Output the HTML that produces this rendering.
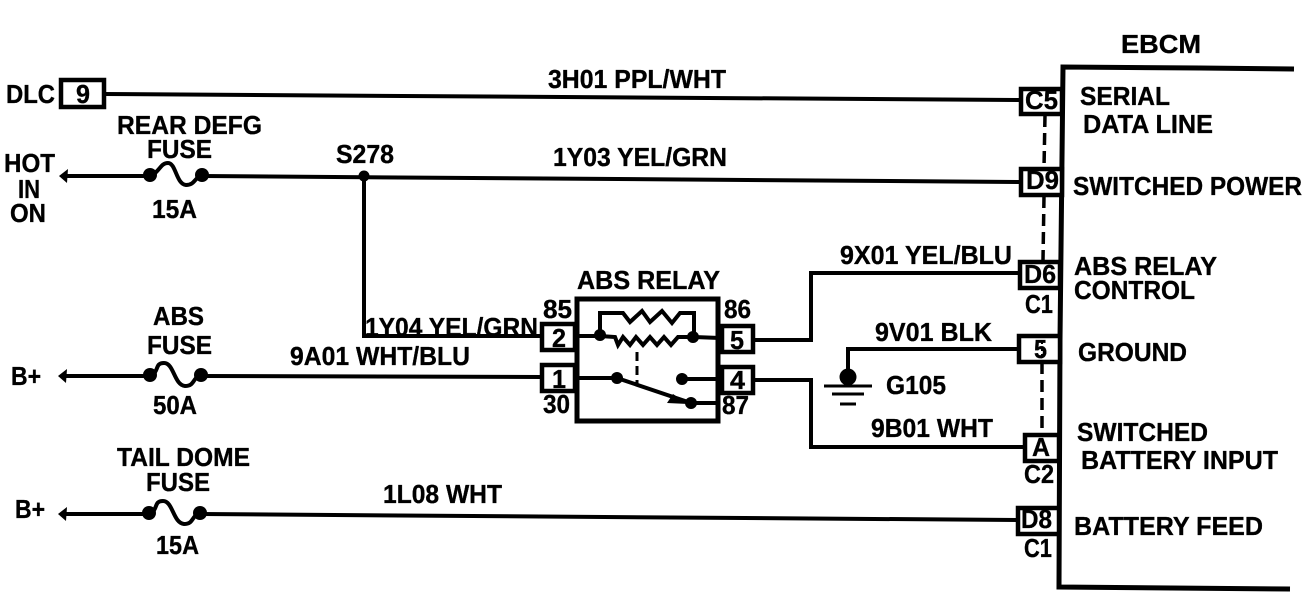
<!DOCTYPE html>
<html><head><meta charset="utf-8"><style>
html,body{margin:0;padding:0;background:#fff;width:1312px;height:598px;overflow:hidden}
svg{display:block}
text{font-family:"Liberation Sans",sans-serif;font-weight:bold;fill:#000;font-size:26px;stroke:#000;stroke-width:.35}
.w{fill:none;stroke:#000;stroke-width:4}
.b{fill:#fff;stroke:#000;stroke-width:4.5}
.d{fill:none;stroke:#000;stroke-width:3.5;stroke-dasharray:12 6}
</style></head><body>
<svg width="1312" height="598" viewBox="0 0 1312 598" xmlns="http://www.w3.org/2000/svg">
<!-- EBCM outline -->
<path d="M1294 69 L1200 68 L1063 67 L1060 340 L1059 587 L1290 589" fill="none" stroke="#000" stroke-width="5"/>
<!-- wires -->
<path class="w" d="M104 94 L1020 100"/>
<path class="w" d="M62 176 L150 176"/>
<path class="w" d="M202 176 L1020 182"/>
<path class="w" d="M364 176 L364 336 L541 336"/>
<path class="w" d="M62 376 L150 376"/>
<path class="w" d="M202 376 L541 377"/>
<path class="w" d="M62 514 L150 514"/>
<path class="w" d="M202 514 L1017 520"/>
<path class="w" d="M753 340 L811 340 L811 273 L1018 273"/>
<path class="w" d="M848 376 L848 349 L1018 349"/>
<path class="w" d="M753 380 L811 380 L811 447 L1023 447"/>
<circle cx="364" cy="176" r="5.5"/>
<!-- arrows -->
<path d="M59 176 L68 169 L67 183 Z"/><path d="M58 376 L67 369 L66 383 Z"/><path d="M58 514 L67 507 L66 521 Z"/>
<!-- fuses -->
<g><circle cx="150" cy="175" r="7"/><circle cx="202" cy="175" r="7"/><path d="M150 176 C160 172 160 163 168 163 C176 163 176 184 186 185 C195 185 194 178 202 175" class="w"/></g>
<g><circle cx="150" cy="375" r="7"/><circle cx="201" cy="375" r="7"/><path d="M150 376 C160 372 154 363 164 363 C174 363 174 385 185 386 C195 386 192 378 201 375" class="w"/></g>
<g><circle cx="149" cy="513" r="7"/><circle cx="200" cy="513" r="7"/><path d="M149 514 C159 510 153 501 163 501 C173 501 173 523 184 524 C194 524 191 516 200 513" class="w"/></g>
<!-- dashed shield -->
<path class="d" d="M1045 115 L1044 168"/>
<path class="d" d="M1044 196 L1043 260"/>
<path class="d" d="M1042 362 L1042 433"/>
<!-- relay -->
<rect x="577" y="299" width="141" height="122" fill="#fff" stroke="#000" stroke-width="5"/>
<path class="w" d="M577 336 L600 336 L615 337 L618 345 L623 337 L630 345 L636 337 L643 345 L650 337 L657 345 L664 337 L671 345 L678 337 L694 337 L720 338"/>
<path class="w" d="M600 336 L600 313 L623 313 L630 322 L642 311 L650 322 L662 311 L672 323 L680 313 L694 313 L694 337"/>
<circle cx="600" cy="335" r="6"/><circle cx="693" cy="337" r="6"/>
<path d="M637 352 L637 385" fill="none" stroke="#000" stroke-width="3" stroke-dasharray="9 5"/>
<path class="w" d="M578 378 L617 378 L691 403 L720 403"/>
<path class="w" d="M682 379 L720 379"/>
<circle cx="617" cy="378" r="6"/><circle cx="682" cy="379" r="6"/><circle cx="691" cy="403" r="6"/>
<path d="M667 403 L673 394 L688 404 Z"/>
<!-- connector boxes -->
<rect class="b" x="61" y="80" width="43" height="27"/>
<rect class="b" x="542" y="324" width="33" height="26"/>
<rect class="b" x="542" y="365" width="33" height="26"/>
<rect class="b" x="722" y="326" width="31" height="26"/>
<rect class="b" x="722" y="367" width="31" height="26"/>
<rect class="b" x="1021" y="89" width="41" height="25"/>
<rect class="b" x="1021" y="169" width="41" height="26"/>
<rect class="b" x="1020" y="262" width="40" height="26"/>
<rect class="b" x="1019" y="336" width="41" height="26"/>
<rect class="b" x="1025" y="435" width="34" height="26"/>
<rect class="b" x="1018" y="508" width="41" height="26"/>
<path d="M1042 340 L1042 362" stroke="#000" stroke-width="2" stroke-dasharray="4 3" fill="none"/>
<!-- ground -->
<circle cx="848" cy="377" r="8.5"/>
<path d="M824 386 L872 386 M832 394 L864 394 M840 404 L856 404" stroke="#000" stroke-width="3" fill="none"/>
<!-- labels -->
<text x="1121" y="53" textLength="80" lengthAdjust="spacingAndGlyphs">EBCM</text>
<text x="6" y="103" textLength="49" lengthAdjust="spacingAndGlyphs">DLC</text>
<text x="76" y="103" textLength="14" lengthAdjust="spacingAndGlyphs">9</text>
<text x="548" y="88" textLength="178" lengthAdjust="spacingAndGlyphs">3H01 PPL/WHT</text>
<text x="1080" y="105" textLength="90" lengthAdjust="spacingAndGlyphs">SERIAL</text>
<text x="1083" y="133" textLength="130" lengthAdjust="spacingAndGlyphs">DATA LINE</text>
<text x="1073" y="195" textLength="229" lengthAdjust="spacingAndGlyphs">SWITCHED POWER</text>
<text x="1074" y="275" textLength="143" lengthAdjust="spacingAndGlyphs">ABS RELAY</text>
<text x="1074" y="299" textLength="121" lengthAdjust="spacingAndGlyphs">CONTROL</text>
<text x="1078" y="361" textLength="109" lengthAdjust="spacingAndGlyphs">GROUND</text>
<text x="1077" y="441" textLength="131" lengthAdjust="spacingAndGlyphs">SWITCHED</text>
<text x="1081" y="469" textLength="197" lengthAdjust="spacingAndGlyphs">BATTERY INPUT</text>
<text x="1074" y="535" textLength="189" lengthAdjust="spacingAndGlyphs">BATTERY FEED</text>
<text x="1025" y="109" textLength="33" lengthAdjust="spacingAndGlyphs">C5</text>
<text x="1026" y="189" textLength="33" lengthAdjust="spacingAndGlyphs">D9</text>
<text x="1024" y="283" textLength="32" lengthAdjust="spacingAndGlyphs">D6</text>
<text x="1025" y="313" textLength="28" lengthAdjust="spacingAndGlyphs">C1</text>
<text x="1034" y="358" textLength="13" lengthAdjust="spacingAndGlyphs">5</text>
<text x="1032" y="456" textLength="18" lengthAdjust="spacingAndGlyphs">A</text>
<text x="1024" y="483" textLength="30" lengthAdjust="spacingAndGlyphs">C2</text>
<text x="1021" y="528" textLength="31" lengthAdjust="spacingAndGlyphs">D8</text>
<text x="1024" y="557" textLength="28" lengthAdjust="spacingAndGlyphs">C1</text>
<text x="117" y="134" textLength="145" lengthAdjust="spacingAndGlyphs">REAR DEFG</text>
<text x="147" y="158" textLength="65" lengthAdjust="spacingAndGlyphs">FUSE</text>
<text x="4" y="172" textLength="51" lengthAdjust="spacingAndGlyphs">HOT</text>
<text x="18" y="198" textLength="22" lengthAdjust="spacingAndGlyphs">IN</text>
<text x="10" y="222" textLength="36" lengthAdjust="spacingAndGlyphs">ON</text>
<text x="152" y="218" textLength="45" lengthAdjust="spacingAndGlyphs">15A</text>
<text x="336" y="163" textLength="58" lengthAdjust="spacingAndGlyphs">S278</text>
<text x="553" y="166" textLength="174" lengthAdjust="spacingAndGlyphs">1Y03 YEL/GRN</text>
<text x="840" y="264" textLength="172" lengthAdjust="spacingAndGlyphs">9X01 YEL/BLU</text>
<text x="153" y="325" textLength="51" lengthAdjust="spacingAndGlyphs">ABS</text>
<text x="147" y="354" textLength="65" lengthAdjust="spacingAndGlyphs">FUSE</text>
<text x="153" y="414" textLength="44" lengthAdjust="spacingAndGlyphs">50A</text>
<text x="11" y="385" textLength="30" lengthAdjust="spacingAndGlyphs">B+</text>
<text x="365" y="336" textLength="173" lengthAdjust="spacingAndGlyphs">1Y04 YEL/GRN</text>
<text x="290" y="365" textLength="180" lengthAdjust="spacingAndGlyphs">9A01 WHT/BLU</text>
<text x="577" y="289" textLength="143" lengthAdjust="spacingAndGlyphs">ABS RELAY</text>
<text x="543" y="318" textLength="29" lengthAdjust="spacingAndGlyphs">85</text>
<text x="724" y="318" textLength="27" lengthAdjust="spacingAndGlyphs">86</text>
<text x="552" y="347" textLength="14" lengthAdjust="spacingAndGlyphs">2</text>
<text x="552" y="388" textLength="14" lengthAdjust="spacingAndGlyphs">1</text>
<text x="730" y="349" textLength="14" lengthAdjust="spacingAndGlyphs">5</text>
<text x="730" y="389" textLength="15" lengthAdjust="spacingAndGlyphs">4</text>
<text x="543" y="413" textLength="27" lengthAdjust="spacingAndGlyphs">30</text>
<text x="722" y="414" textLength="27" lengthAdjust="spacingAndGlyphs">87</text>
<text x="875" y="341" textLength="117" lengthAdjust="spacingAndGlyphs">9V01 BLK</text>
<text x="886" y="394" textLength="60" lengthAdjust="spacingAndGlyphs">G105</text>
<text x="871" y="437" textLength="122" lengthAdjust="spacingAndGlyphs">9B01 WHT</text>
<text x="117" y="466" textLength="133" lengthAdjust="spacingAndGlyphs">TAIL DOME</text>
<text x="146" y="491" textLength="64" lengthAdjust="spacingAndGlyphs">FUSE</text>
<text x="156" y="554" textLength="43" lengthAdjust="spacingAndGlyphs">15A</text>
<text x="15" y="518" textLength="30" lengthAdjust="spacingAndGlyphs">B+</text>
<text x="383" y="503" textLength="119" lengthAdjust="spacingAndGlyphs">1L08 WHT</text>
</svg>
</body></html>
